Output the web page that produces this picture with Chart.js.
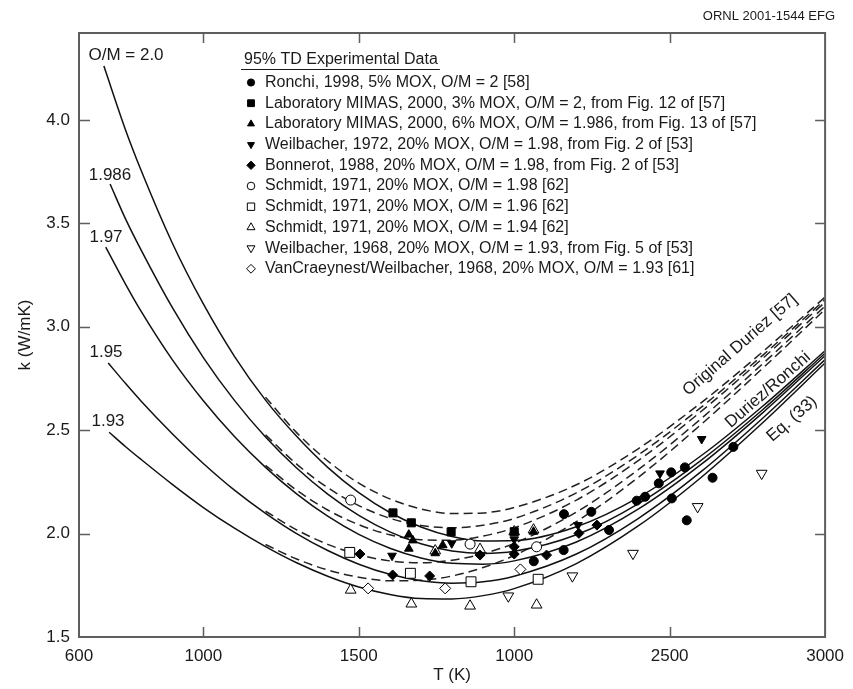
<!DOCTYPE html>
<html>
<head>
<meta charset="utf-8">
<title>MOX thermal conductivity</title>
<style>
  html, body { margin: 0; padding: 0; background: #fff; }
  #wrap { width: 853px; height: 689px; }
</style>
<script src="https://cdn.jsdelivr.net/npm/chart.js"></script>
</head>
<body>
<div id="wrap"><canvas id="chart" width="853" height="689"></canvas></div>
<script>
// axis ticks (the figure prints "1000" under the 2000 K tick)
const xTickValues = [600, 1000, 1500, 2000, 2500, 3000];
const xTickLabels = ['600', '1000', '1500', '1000', '2500', '3000'];
const yTickValues = [1.5, 2.0, 2.5, 3.0, 3.5, 4.0];

// solid curves (Duriez/Ronchi), k in W/mK
const curveT = [750, 800, 900, 1000, 1100, 1200, 1300, 1400, 1500, 1600, 1700, 1800, 1900, 2000, 2200, 2400, 2600, 2800, 3000];
const curveLabels = ['O/M = 2.0', '1.986', '1.97', '1.95', '1.93'];
const curveStartT = [680, 700, 686, 694, 697];
const curveStartK = [4.26, 3.69, 3.385, 2.825, 2.49];
const solid200 = [3.95, 3.755, 3.405, 3.11, 2.857, 2.645, 2.47, 2.32, 2.198, 2.102, 2.032, 1.986, 1.964, 1.966, 2.033, 2.175, 2.375, 2.617, 2.884];
const solid1986 = [3.52, 3.37, 3.093, 2.851, 2.644, 2.467, 2.317, 2.191, 2.088, 2.008, 1.951, 1.916, 1.904, 1.914, 1.994, 2.145, 2.353, 2.600, 2.872];
const solid197 = [3.205, 3.074, 2.841, 2.642, 2.469, 2.320, 2.192, 2.084, 1.996, 1.929, 1.882, 1.856, 1.852, 1.868, 1.959, 2.119, 2.333, 2.585, 2.860];
const solid195 = [2.725, 2.64, 2.483, 2.339, 2.210, 2.098, 2.000, 1.918, 1.852, 1.803, 1.772, 1.760, 1.767, 1.794, 1.901, 2.074, 2.298, 2.559, 2.841];
const solid193 = [2.42, 2.358, 2.238, 2.126, 2.026, 1.937, 1.859, 1.794, 1.742, 1.706, 1.686, 1.684, 1.700, 1.734, 1.855, 2.038, 2.270, 2.537, 2.825];

// dashed curves (Original Duriez [57])
const dashT = [1200, 1300, 1400, 1500, 1600, 1700, 1800, 1900, 2000, 2200, 2400, 2600, 2800, 3000];
const dash200 = [2.659, 2.488, 2.351, 2.244, 2.168, 2.119, 2.097, 2.100, 2.126, 2.236, 2.411, 2.631, 2.880, 3.143];
const dash1986 = [2.477, 2.336, 2.222, 2.135, 2.074, 2.039, 2.028, 2.040, 2.073, 2.197, 2.381, 2.609, 2.863, 3.131];
const dash197 = [2.330, 2.210, 2.114, 2.043, 1.994, 1.970, 1.968, 1.988, 2.028, 2.162, 2.354, 2.589, 2.848, 3.119];
const dash195 = [2.108, 2.018, 1.948, 1.898, 1.868, 1.859, 1.871, 1.903, 1.953, 2.104, 2.310, 2.554, 2.822, 3.100];
const dash193 = [1.947, 1.877, 1.824, 1.789, 1.772, 1.774, 1.795, 1.836, 1.894, 2.058, 2.273, 2.526, 2.800, 3.084];

// experimental data
const ronchiT = [2063, 2159, 2160, 2248, 2305, 2394, 2421, 2465, 2505, 2507, 2549, 2555, 2638, 2705];
const ronchiK = [1.866, 1.920, 2.094, 2.105, 2.017, 2.159, 2.178, 2.243, 2.296, 2.170, 2.320, 2.064, 2.270, 2.419];
const mimas3T = [1610, 1669, 1797, 2000];
const mimas3K = [2.100, 2.052, 2.008, 2.009];
const mimas6T = [1661, 1674, 1661, 1746, 1770, 2062];
const mimas6K = [1.995, 1.967, 1.927, 1.905, 1.944, 2.009];
const weil72T = [1607, 1799, 2000, 2205, 2469, 2603];
const weil72K = [1.893, 1.953, 1.972, 2.041, 2.291, 2.457];
const bonnT = [1504, 1609, 1728, 1890, 2000, 2000, 2104, 2208, 2266];
const bonnK = [1.901, 1.800, 1.795, 1.896, 1.936, 1.901, 1.896, 2.001, 2.041];
const schm198T = [1474, 1858, 2072];
const schm198K = [2.162, 1.949, 1.936];
const schm196T = [1471, 1666, 1861, 2077];
const schm196K = [1.909, 1.808, 1.767, 1.779];
const schm194T = [1474, 1669, 1746, 1858, 1890, 2000, 2062, 2072];
const schm194K = [1.727, 1.660, 1.917, 1.650, 1.924, 2.009, 2.018, 1.655];
const weil68T = [1981, 2187, 2382, 2590, 2796];
const weil68K = [1.698, 1.795, 1.904, 2.130, 2.291];
const vanT = [1530, 1778, 2020];
const vanK = [1.735, 1.735, 1.827];

const FONT = "'Liberation Sans', Arial, Helvetica, sans-serif";
const INK = '#1a1a1a';
const FRAME = '#5e5e5e';

function pts(xs, ys) {
  return xs.map((x, i) => ({ x: x, y: ys[i] }));
}

const solidSets = [solid200, solid1986, solid197, solid195, solid193];
const dashSets = [dash200, dash1986, dash197, dash195, dash193];

const datasets = [];

// markers first so they are painted on top of the curves
const markerDefs = [
  { label: 'Ronchi, 1998, 5% MOX, O/M = 2 [58]', T: ronchiT, K: ronchiK, style: 'circle', r: 4.5, rl: 3.6, open: false, rot: 0 },
  { label: 'Laboratory MIMAS, 2000, 3% MOX, O/M = 2, from Fig. 12 of [57]', T: mimas3T, K: mimas3K, style: 'rect', r: 5.7, rl: 4.8, open: false, rot: 0 },
  { label: 'Laboratory MIMAS, 2000, 6% MOX, O/M = 1.986, from Fig. 13 of [57]', T: mimas6T, K: mimas6K, style: 'triangle', r: 5, rl: 4, open: false, rot: 0 },
  { label: 'Weilbacher, 1972, 20% MOX, O/M = 1.98, from Fig. 2 of [53]', T: weil72T, K: weil72K, style: 'triangle', r: 5, rl: 4, open: false, rot: 180 },
  { label: 'Bonnerot, 1988, 20% MOX, O/M = 1.98, from Fig. 2 of [53]', T: bonnT, K: bonnK, style: 'rectRot', r: 5, rl: 4.2, open: false, rot: 0 },
  { label: 'Schmidt, 1971, 20% MOX, O/M = 1.98 [62]', T: schm198T, K: schm198K, style: 'circle', r: 5, rl: 3.8, open: true, rot: 0 },
  { label: 'Schmidt, 1971, 20% MOX, O/M = 1.96 [62]', T: schm196T, K: schm196K, style: 'rect', r: 7, rl: 5.2, open: true, rot: 0 },
  { label: 'Schmidt, 1971, 20% MOX, O/M = 1.94 [62]', T: schm194T, K: schm194K, style: 'triangle', r: 6.2, rl: 4.6, open: true, rot: 0 },
  { label: 'Weilbacher, 1968, 20% MOX, O/M = 1.93, from Fig. 5 of [53]', T: weil68T, K: weil68K, style: 'triangle', r: 6.2, rl: 4.6, open: true, rot: 180 },
  { label: 'VanCraeynest/Weilbacher, 1968, 20% MOX, O/M = 1.93 [61]', T: vanT, K: vanK, style: 'rectRot', r: 5.5, rl: 4.4, open: true, rot: 0 }
];

markerDefs.forEach(m => {
  datasets.push({
    label: m.label,
    data: pts(m.T, m.K),
    showLine: false,
    pointStyle: m.style,
    pointRadius: m.r,
    pointRotation: m.rot,
    pointBackgroundColor: m.open ? '#ffffff' : '#000000',
    pointBorderColor: '#000000',
    pointBorderWidth: 1,
    order: 1
  });
});

solidSets.forEach((vals, i) => {
  datasets.push({
    label: 'Duriez/Ronchi ' + curveLabels[i],
    data: [{ x: curveStartT[i], y: curveStartK[i] }].concat(pts(curveT, vals)),
    showLine: true,
    borderColor: '#111',
    borderWidth: 1.5,
    pointRadius: 0,
    cubicInterpolationMode: 'monotone',
    order: 2
  });
});

dashSets.forEach((vals, i) => {
  datasets.push({
    label: 'Original Duriez ' + curveLabels[i],
    data: pts(dashT, vals),
    showLine: true,
    borderColor: '#222',
    borderWidth: 1.5,
    borderDash: [9, 5],
    pointRadius: 0,
    cubicInterpolationMode: 'monotone',
    order: 3
  });
});

const decor = {
  id: 'decor',
  afterDatasetsDraw(chart) {
    const { ctx, chartArea: a, scales: { x, y } } = chart;
    ctx.save();
    ctx.strokeStyle = FRAME;
    ctx.lineWidth = 2;
    ctx.strokeRect(a.left, a.top, a.right - a.left, a.bottom - a.top);
    ctx.beginPath();
    xTickValues.slice(1, -1).forEach(v => {
      const px = Math.round(x.getPixelForValue(v)) + 0.5;
      ctx.moveTo(px, a.bottom); ctx.lineTo(px, a.bottom - 10);
      ctx.moveTo(px, a.top); ctx.lineTo(px, a.top + 10);
    });
    yTickValues.slice(1).forEach(v => {
      const py = Math.round(y.getPixelForValue(v)) + 0.5;
      ctx.moveTo(a.left, py); ctx.lineTo(a.left + 11, py);
      ctx.moveTo(a.right, py); ctx.lineTo(a.right - 10, py);
    });
    ctx.lineWidth = 1.5;
    ctx.stroke();
    ctx.restore();
  },
  afterDraw(chart) {
    const ctx = chart.ctx;
    ctx.save();
    ctx.fillStyle = INK;

    // report number
    ctx.font = '13px ' + FONT;
    ctx.textAlign = 'right';
    ctx.textBaseline = 'middle';
    ctx.fillText('ORNL 2001-1544 EFG', 835, 16);

    // curve labels on the left
    ctx.font = '17px ' + FONT;
    ctx.textAlign = 'center';
    const labelPos = [[126, 55], [110, 175], [106, 237], [106, 352], [108, 421]];
    curveLabels.forEach((t, i) => ctx.fillText(t, labelPos[i][0], labelPos[i][1]));

    // rotated labels on the right
    const rotated = [['Original Duriez [57]', 740, 345], ['Duriez/Ronchi', 768, 390], ['Eq. (33)', 792, 419]];
    rotated.forEach(([t, cx, cy]) => {
      ctx.save();
      ctx.translate(cx, cy);
      ctx.rotate(-41 * Math.PI / 180);
      ctx.fillText(t, 0, 0);
      ctx.restore();
    });

    // legend
    ctx.font = '16px ' + FONT;
    ctx.textAlign = 'left';
    const title = '95% TD Experimental Data';
    ctx.fillText(title, 244, 60);
    const tw = ctx.measureText(title).width;
    ctx.strokeStyle = INK;
    ctx.lineWidth = 1;
    ctx.beginPath();
    ctx.moveTo(241, 69.5); ctx.lineTo(246 + tw, 69.5);
    ctx.stroke();

    const drawPoint = Chart.helpers && Chart.helpers.drawPoint;
    markerDefs.forEach((m, i) => {
      const ry = 82.5 + i * 20.7;
      ctx.fillStyle = m.open ? '#ffffff' : '#000000';
      ctx.strokeStyle = '#000000';
      ctx.lineWidth = 1;
      if (drawPoint) {
        drawPoint(ctx, { pointStyle: m.style, radius: m.rl, rotation: m.rot, borderWidth: 1 }, 251, ry);
      }
      ctx.fillStyle = INK;
      ctx.fillText(m.label, 265, ry);
    });
    ctx.restore();
  }
};

new Chart(document.getElementById('chart'), {
  type: 'scatter',
  data: { datasets: datasets },
  options: {
    responsive: false,
    animation: false,
    devicePixelRatio: 1,
    layout: { padding: { top: 33, right: 25, left: 0, bottom: 0 } },
    plugins: { legend: { display: false }, tooltip: { enabled: false } },
    scales: {
      x: {
        type: 'linear',
        min: 600,
        max: 3000,
        afterFit: s => { s.height = 52; },
        afterBuildTicks: s => { s.ticks = xTickValues.map(v => ({ value: v })); },
        grid: { display: false, drawTicks: false },
        border: { display: false },
        ticks: {
          autoSkip: false,
          maxRotation: 0,
          padding: 9,
          color: INK,
          font: { family: FONT, size: 17 },
          callback: v => xTickLabels[xTickValues.indexOf(v)]
        },
        title: {
          display: true,
          text: 'T (K)',
          color: INK,
          font: { family: FONT, size: 17 },
          padding: { top: 0, bottom: 3 }
        }
      },
      y: {
        min: 1.5,
        max: 4.42,
        afterFit: s => { s.width = 79; },
        afterBuildTicks: s => { s.ticks = yTickValues.map(v => ({ value: v })); },
        grid: { display: false, drawTicks: false },
        border: { display: false },
        ticks: {
          padding: 9,
          color: INK,
          font: { family: FONT, size: 17 },
          callback: v => v.toFixed(1)
        },
        title: {
          display: true,
          text: 'k (W/mK)',
          color: INK,
          font: { family: FONT, size: 17 },
          padding: { top: 15, bottom: 0 }
        }
      }
    }
  },
  plugins: [decor]
});
</script>
</body>
</html>
